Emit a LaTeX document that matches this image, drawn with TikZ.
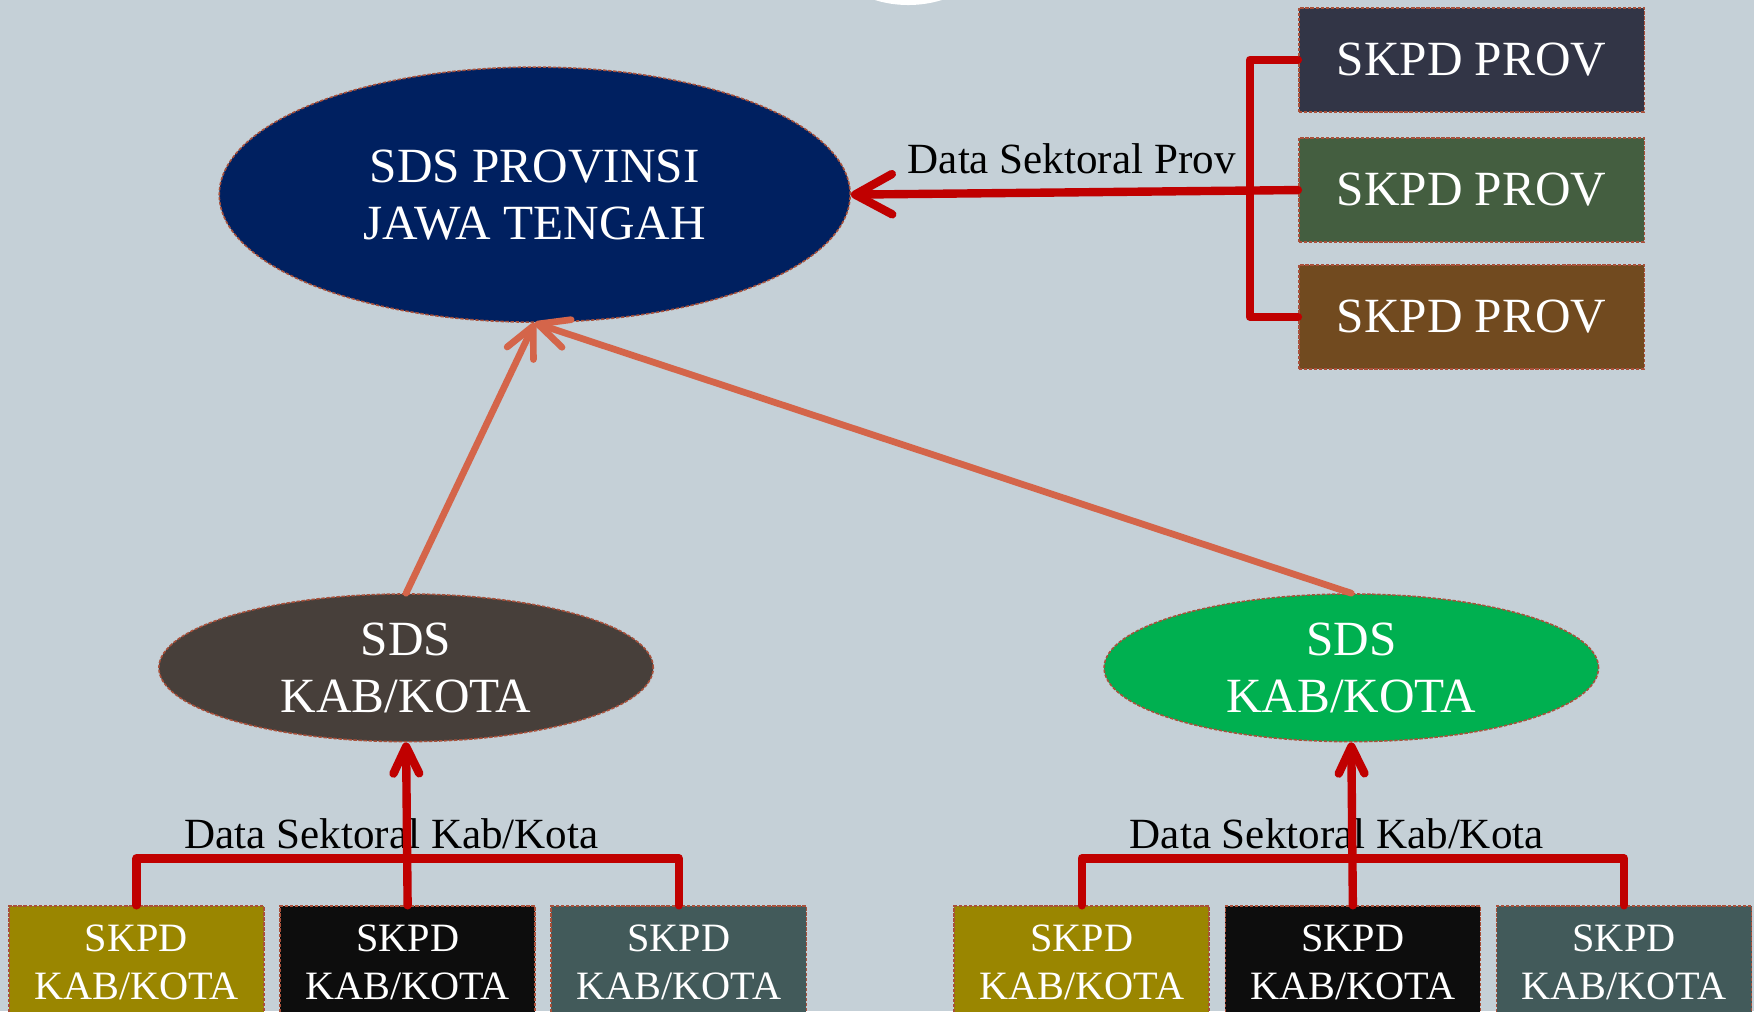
\documentclass[tikz,border=0pt]{standalone}
\usepackage{fontspec}
\setmainfont{Liberation Serif}
\usepackage{tikz}
\usetikzlibrary{arrows.meta,shapes,positioning}
\definecolor{latar}{HTML}{C5D0D7}
\definecolor{garis}{HTML}{A9503A}
\definecolor{navy}{HTML}{002060}
\definecolor{provA}{HTML}{323546}
\definecolor{provB}{HTML}{445E40}
\definecolor{provC}{HTML}{714A1F}
\definecolor{kabA}{HTML}{473F3A}
\definecolor{kabB}{HTML}{00B050}
\definecolor{zaitun}{HTML}{9A8600}
\definecolor{hitam}{HTML}{0D0D0D}
\definecolor{teal}{HTML}{425A5A}
\definecolor{merah}{HTML}{C00000}
\definecolor{oranye}{HTML}{D4654A}

\begin{document}
\begin{tikzpicture}[x=1pt,y=-1pt]%[->,>=stealth']
\tikzstyle{sds}=[draw=garis, dash pattern=on 3pt off 1.5pt, line width=1.4pt, shape=ellipse, inner sep=0pt, text=white, align=center, font=\fontsize{44}{51}\selectfont]
\tikzstyle{skpd}=[draw=garis, dash pattern=on 3pt off 1.5pt, line width=1.4pt, shape=rectangle, minimum width=309pt, minimum height=93pt, inner sep=0pt, text=white, font=\fontsize{44}{51}\selectfont]
\tikzstyle{skpdkab}=[draw=garis, dash pattern=on 3pt off 1.5pt, line width=1.4pt, shape=rectangle, minimum width=228pt, minimum height=100pt, inner sep=0pt, text=white, align=center, font=\fontsize{36}{43}\selectfont]
\tikzstyle{ket}=[text=black, inner sep=0pt, font=\fontsize{38.5}{44}\selectfont]
\tikzstyle{kirim}=[draw=merah, line width=7.5pt, line join=round, line cap=round]
\tikzstyle{naik}=[draw=oranye, line width=6pt, line cap=round, -{Straight Barb[length=27pt, width=26pt, round]}]

\fill[latar] (0,0) rectangle (1568,904);
\clip (0,0) rectangle (1568,904);
\fill[white] (812,-97.5) circle (102);

\node[sds, fill=navy, minimum width=564pt, minimum height=228pt] (prov) at (478,174) {SDS PROVINSI\\JAWA TENGAH};

\node[skpd, fill=provA] (p1) at (1315.5,53.5) {SKPD PROV};
\node[skpd, fill=provB] (p2) [below=22pt of p1] {SKPD PROV};
\node[skpd, fill=provC] (p3) [below=19pt of p2] {SKPD PROV};

\node[sds, fill=kabA, minimum width=442pt, minimum height=132pt] (k1) at (363,597) {SDS\\KAB/KOTA};
\node[sds, fill=kabB, minimum width=442pt, minimum height=132pt] (k2) at (1208,597) {SDS\\KAB/KOTA};

\node[skpdkab, fill=zaitun] (a1) at (122,860) {SKPD\\KAB/KOTA};
\node[skpdkab, fill=hitam] (a2) [right=13pt of a1] {SKPD\\KAB/KOTA};
\node[skpdkab, fill=teal] (a3) [right=13pt of a2] {SKPD\\KAB/KOTA};
\node[skpdkab, fill=zaitun] (b1) at (967,860) {SKPD\\KAB/KOTA};
\node[skpdkab, fill=hitam] (b2) [right=13pt of b1] {SKPD\\KAB/KOTA};
\node[skpdkab, fill=teal] (b3) [right=13pt of b2] {SKPD\\KAB/KOTA};

\node[ket] (lp) at (958,142) {Data Sektoral Prov};
\node[ket] (la) at (350,745) {Data Sektoral Kab/Kota};
\node[ket] (lb) at (1195,745) {Data Sektoral Kab/Kota};

\draw[kirim] (p1.west) -- ++(-43,0) |- (p3.west);
\draw[kirim, -{Straight Barb[length=33pt, width=36pt, round]}] (p2.west) -- (prov.east);

\draw[kirim] (a1.north) -- ++(0,-42) -| (a3.north);
\draw[kirim, -{Straight Barb[length=24pt, width=23pt, round]}] (a2.north) -- (k1.south);
\draw[kirim] (b1.north) -- ++(0,-42) -| (b3.north);
\draw[kirim, -{Straight Barb[length=24pt, width=23pt, round]}] (b2.north) -- (k2.south);

\draw[naik] (k1.north) -- (prov.south);
\draw[naik] (k2.north) -- (prov.south);

\end{tikzpicture}
\end{document}
